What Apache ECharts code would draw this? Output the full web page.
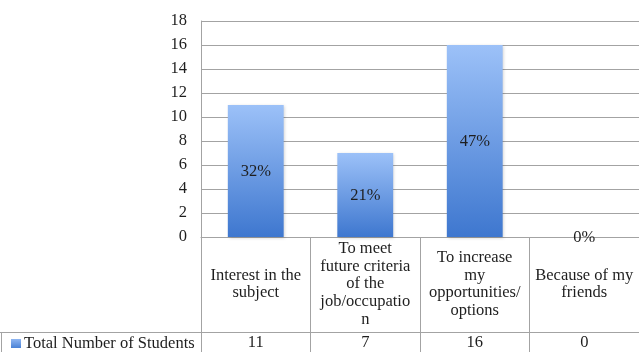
<!DOCTYPE html>
<html>
<head>
<meta charset="utf-8">
<script src="https://cdn.jsdelivr.net/npm/echarts@6/dist/echarts.min.js"></script>
<style>html,body{margin:0;padding:0;background:#fff;}#c{width:639px;height:352px;}</style>
</head>
<body>
<div id="c"></div>
<script>
var categories = ['Interest in the\nsubject', 'To meet\nfuture criteria\nof the\njob/occupatio\nn', 'To increase\nmy\nopportunities/\noptions', 'Because of my\nfriends'];
var values = [11, 7, 16, 0];
var percentLabels = ['32%', '21%', '47%', '0%'];
var seriesName = 'Total Number of Students';
var yTicks = {min: 0, max: 18, interval: 2};

var FONT = '"Liberation Serif", "Times New Roman", serif';
var FS = 16.5;
var LINE = '#a3a3a3';
var TXT = '#1e1e1e';
var barGrad = new echarts.graphic.LinearGradient(0, 0, 0, 1, [
  {offset: 0, color: '#9cc1f8'},
  {offset: 1, color: '#3e77cf'}
]);
var legendGrad = new echarts.graphic.LinearGradient(0, 0, 0, 1, [
  {offset: 0, color: '#8fb6f2'},
  {offset: 1, color: '#4a82d6'}
]);

var chart = echarts.init(document.getElementById('c'), null, {renderer: 'canvas'});
chart.setOption({
  animation: false,
  backgroundColor: '#fff',
  grid: {left: 201, right: -2, top: 21, bottom: 115, containLabel: false},
  legend: {
    show: true,
    left: 11,
    top: 335,
    icon: 'rect',
    itemWidth: 10,
    itemHeight: 9,
    itemGap: 4,
    padding: 0,
    data: [{name: seriesName, itemStyle: {color: legendGrad}}],
    textStyle: {fontFamily: FONT, fontSize: FS, color: TXT, padding: [0, 0, 0, -2]}
  },
  xAxis: [{
    type: 'category',
    data: categories,
    position: 'bottom',
    axisLine: {show: true, lineStyle: {color: LINE, width: 1}},
    axisTick: {show: true, length: 116, lineStyle: {color: LINE, width: 1}},
    axisLabel: {
      interval: 0,
      margin: 47,
      verticalAlign: 'middle',
      fontFamily: FONT,
      fontSize: FS,
      lineHeight: 17.6,
      color: TXT,
      align: 'center'
    },
    splitLine: {show: false}
  }, {
    type: 'category',
    data: values.map(String),
    position: 'bottom',
    offset: 95,
    axisLine: {show: true, lineStyle: {color: LINE, width: 1}},
    axisTick: {show: false},
    axisLabel: {
      interval: 0,
      margin: 11,
      verticalAlign: 'middle',
      fontFamily: FONT,
      fontSize: FS,
      color: TXT
    },
    splitLine: {show: false}
  }],
  yAxis: {
    type: 'value',
    min: yTicks.min,
    max: yTicks.max,
    interval: yTicks.interval,
    axisLine: {show: true, lineStyle: {color: LINE, width: 1}},
    axisTick: {show: false},
    axisLabel: {margin: 14, fontFamily: FONT, fontSize: FS, color: TXT},
    splitLine: {show: true, lineStyle: {color: LINE, width: 1}}
  },
  series: [{
    name: seriesName,
    type: 'bar',
    xAxisIndex: 0,
    data: values,
    barWidth: '51%',
    itemStyle: {
      color: barGrad,
      shadowColor: 'rgba(0,0,0,0.18)',
      shadowBlur: 3,
      shadowOffsetX: 1,
      shadowOffsetY: 1
    },
    label: {
      show: true,
      position: 'inside',
      offset: [0, 1],
      formatter: function (p) { return percentLabels[p.dataIndex]; },
      fontFamily: FONT,
      fontSize: FS,
      color: TXT
    }
  }],
  graphic: [
    {type: 'line', silent: true, shape: {x1: 0, y1: 332.5, x2: 201, y2: 332.5}, style: {stroke: LINE, lineWidth: 1}},
    {type: 'line', silent: true, shape: {x1: 1.5, y1: 332, x2: 1.5, y2: 352}, style: {stroke: LINE, lineWidth: 1}}
  ]
});
</script>
</body>
</html>
